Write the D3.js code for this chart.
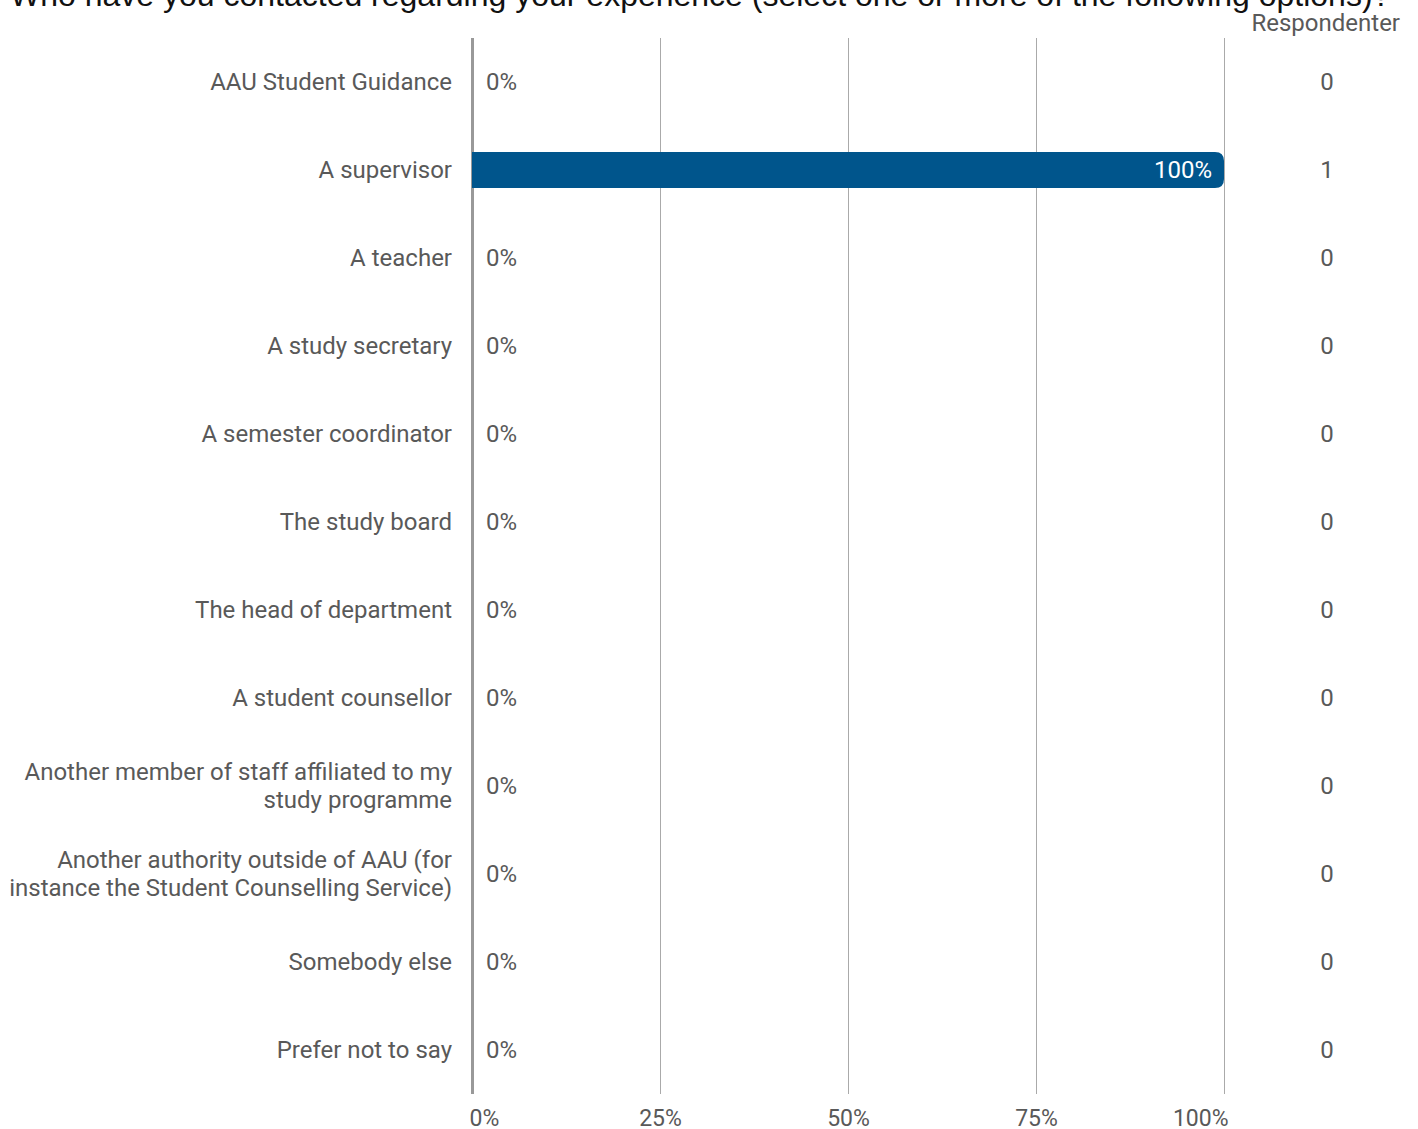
<!DOCTYPE html>
<html><head><meta charset="utf-8">
<script src="https://cdn.jsdelivr.net/npm/d3@7"></script>
<style>
html,body{margin:0;padding:0;background:#fff;overflow:hidden}
svg{display:block}
</style></head>
<body>
<svg id="chart" width="1418" height="1129"></svg>
<script>
const title = "Who have you contacted regarding your experience (select one or more of the following options)?";
const categories = [
  "AAU Student Guidance",
  "A supervisor",
  "A teacher",
  "A study secretary",
  "A semester coordinator",
  "The study board",
  "The head of department",
  "A student counsellor",
  "Another member of staff affiliated to my study programme",
  "Another authority outside of AAU (for instance the Student Counselling Service)",
  "Somebody else",
  "Prefer not to say"
];
const percents = [0, 100, 0, 0, 0, 0, 0, 0, 0, 0, 0, 0];
const counts = [0, 1, 0, 0, 0, 0, 0, 0, 0, 0, 0, 0];
const xTicks = [0, 25, 50, 75, 100];
const countHeader = "Respondenter";

const svg = d3.select("#chart");
const gray = "#595959";
const font = "Roboto, 'Noto Sans', sans-serif";

const x = d3.scaleLinear().domain([0, 100]).range([472, 1224]);
const y = d3.scaleBand().domain(categories).range([38, 1094]).paddingInner(0).paddingOuter(0);
const barH = 36;

// title
svg.append("text").attr("x", 10).attr("y", 6)
  .attr("font-family", "'Liberation Sans', Arial, sans-serif").attr("font-size", 32)
  .attr("fill", "#111").text(title);

// header
svg.append("text").attr("x", 1400).attr("y", 31).attr("text-anchor", "end")
  .attr("font-family", font).attr("font-size", 24).attr("fill", gray).text(countHeader);

// grid
const axis = d3.axisBottom(x).tickValues(xTicks).tickSize(-(1094 - 38)).tickFormat(d => d + "%");
const gAxis = svg.append("g").attr("transform", "translate(0,1094)").call(axis);
gAxis.select(".domain").remove();
gAxis.selectAll(".tick line").attr("stroke", "#aaa").attr("stroke-width", 1)
  .filter(d => d === 0).attr("stroke", "#999").attr("stroke-width", 3);
gAxis.selectAll(".tick text").attr("font-family", font).attr("font-size", 23)
  .attr("fill", gray).attr("dy", 0).attr("y", 32)
  .attr("text-anchor", d => d === 0 ? "start" : (d === 100 ? "end" : "middle"))
  .attr("dx", d => d === 0 ? -3 : (d === 100 ? 4 : 0));

// bars
const rowG = svg.append("g");
categories.forEach((c, i) => {
  const cy = y(c) + y.bandwidth() / 2;
  const v = percents[i];
  if (v > 0) {
    const x0 = x(0), x1 = x(v), r = 9, top = cy - barH / 2, bot = cy + barH / 2;
    const p = `M${x0},${top} H${x1 - r} Q${x1},${top} ${x1},${top + r} V${bot - r} Q${x1},${bot} ${x1 - r},${bot} H${x0} Z`;
    rowG.append("path").attr("d", p).attr("fill", "#00558c");
    rowG.append("text").attr("x", x1 - 12).attr("y", cy).attr("dy", "0.35em")
      .attr("text-anchor", "end").attr("font-family", font).attr("font-size", 24)
      .attr("fill", "#fff").text(v + "%");
  } else {
    rowG.append("text").attr("x", x(0) + 14).attr("y", cy).attr("dy", "0.35em")
      .attr("font-family", font).attr("font-size", 24).attr("fill", gray).text(v + "%");
  }
  rowG.append("text").attr("x", 1327).attr("y", cy).attr("dy", "0.35em")
    .attr("text-anchor", "middle").attr("font-family", font).attr("font-size", 24)
    .attr("fill", gray).text(counts[i]);
  const t = rowG.append("text").attr("x", 452).attr("text-anchor", "end")
    .attr("font-family", font).attr("font-size", 24).attr("fill", gray);
  const words = c.split(" ");
  const lines = [];
  let line = [];
  const probe = t.append("tspan");
  words.forEach(w => {
    line.push(w);
    probe.text(line.join(" "));
    if (probe.node().getComputedTextLength() > 445 && line.length > 1) {
      line.pop(); lines.push(line.join(" ")); line = [w];
    }
  });
  lines.push(line.join(" "));
  probe.remove();
  const lh = 28;
  lines.forEach((l, k) => {
    t.append("tspan").attr("x", 452).attr("y", cy + (k - (lines.length - 1) / 2) * lh)
      .attr("dy", "0.35em").text(l);
  });
});
</script>
</body></html>
